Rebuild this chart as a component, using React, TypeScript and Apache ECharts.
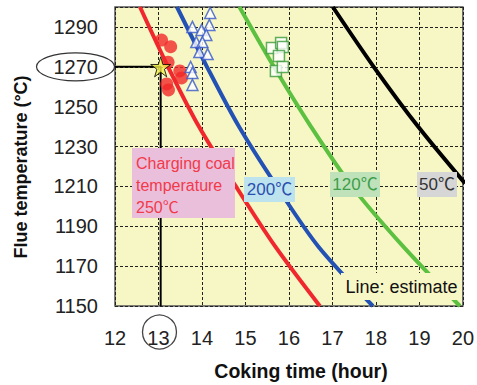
import React, { useEffect, useRef } from "react";
import * as echarts from "echarts";

// Estimated flue temperature vs. coking time, one line per charging-coal temperature
const line250: number[][] = [[12.575, 1300], [13.22, 1270], [13.93, 1240], [14.78, 1210], [15.68, 1180], [16.71, 1150]];
const line200: number[][] = [[13.425, 1300], [14.115, 1270], [14.85, 1240], [15.72, 1210], [16.67, 1180], [17.93, 1150]];
const line120: number[][] = [[14.862, 1300], [15.655, 1270], [16.506, 1240], [17.448, 1210], [18.62, 1180], [19.93, 1150]];
const line50: number[][] = [[17.01, 1300], [17.95, 1270], [18.97, 1240], [20.05, 1211.5]];

// Measured operating points
const points250: number[][] = [[13.07, 1283.4], [13.28, 1280.1], [13.22, 1272.3], [13.49, 1267.9], [13.53, 1264.4], [13.19, 1261.4], [13.23, 1258.4]];
const points200: number[][] = [[14.19, 1297], [13.78, 1290], [14.17, 1291], [13.99, 1288.5], [14.1, 1286], [13.87, 1282.4], [14.01, 1282.4], [13.94, 1277.4], [14.13, 1276.4], [13.74, 1269.9], [13.78, 1266.9], [13.78, 1260.9]];
const points120: number[][] = [[15.61, 1279.4], [15.82, 1281.9], [15.86, 1279.9], [15.77, 1275.4], [15.7, 1267.9], [15.86, 1269.9]];

// Target point and its guide lines
const target: number[] = [13.05, 1270];
const guide: number[][] = [[12, 1270], [13.05, 1270], [13.05, 1150]];

const xMin = 12, xMax = 20, xStep = 1;
const yMin = 1150, yMax = 1300, yStep = 20;

const FONT = "Arial, 'Liberation Sans', 'Noto Sans CJK JP', sans-serif";
const PLOT_BG = "#f7f7c6";
const STAR = "path://M50,0 L61,35 L98,35 L68,57 L79,91 L50,70 L21,91 L32,57 L2,35 L39,35 Z";

export default function App() {
  const ref = useRef<HTMLDivElement>(null);

  useEffect(() => {
    if (!ref.current) return;
    const chart = echarts.init(ref.current, undefined, { renderer: "svg" });

    const curve = (data: number[][], color: string) => ({
      type: "line",
      data,
      smooth: 0.3,
      showSymbol: false,
      lineStyle: { color, width: 4 },
      z: 2,
    });

    const boxLabel = (x: number, y: number, w: number, h: number, bg: string, text: string, color: string, size: number) => [
      { type: "rect", z: 100, shape: { x, y, width: w, height: h }, style: { fill: bg } },
      {
        type: "text", z: 101, x: x + w / 2, y: y + h / 2,
        style: { text, fill: color, font: `${size}px ${FONT}`, align: "center", verticalAlign: "middle" },
      },
    ];

    chart.setOption({
      animation: false,
      grid: {
        left: 115, right: 12, top: 7, bottom: 79,
        show: true, backgroundColor: PLOT_BG, borderColor: "#555", borderWidth: 1.5,
      },
      xAxis: {
        type: "value", min: xMin, max: xMax, interval: xStep,
        axisLine: { show: false }, axisTick: { show: false },
        axisLabel: { margin: 22, fontSize: 20, color: "#222", fontFamily: FONT, formatter: (v: number) => String(v) },
        splitLine: { show: true, lineStyle: { color: "#222", width: 1, type: [3, 2] } },
      },
      yAxis: {
        type: "value", min: yMin, max: yMax, interval: yStep,
        axisLine: { show: false }, axisTick: { show: false },
        axisLabel: {
          margin: 17, fontSize: 20, color: "#222", fontFamily: FONT, showMaxLabel: false,
          formatter: (v: number) => String(v),
        },
        splitLine: { show: true, lineStyle: { color: "#222", width: 1, type: [3, 2] } },
      },
      series: [
        curve(line250, "#f0282d"),
        curve(line200, "#2452b4"),
        curve(line120, "#5cc040"),
        curve(line50, "#000000"),
        {
          type: "line", data: guide, showSymbol: false, z: 3,
          lineStyle: { color: "#000", width: 2 },
        },
        {
          type: "scatter", data: points250, symbol: "circle", symbolSize: 13, z: 4,
          itemStyle: { color: "#f02828" },
        },
        {
          type: "scatter", data: points200, symbol: "triangle", symbolSize: 11, z: 4,
          itemStyle: { color: "#ffffff", borderColor: "#3556c8", borderWidth: 1.5 },
        },
        {
          type: "scatter", data: points120, symbol: "rect", symbolSize: 11, z: 4,
          itemStyle: { color: "#ffffff", borderColor: "#3a9a3a", borderWidth: 1.5 },
        },
        {
          type: "scatter", data: [target], symbol: STAR, symbolSize: 20, z: 5,
          itemStyle: { color: "#f2ee4a", borderColor: "#000", borderWidth: 1 },
        },
      ],
    });

    const ty = chart.convertToPixel({ gridIndex: 0 }, [xMin, target[1]]) as number[];
    const tx = chart.convertToPixel({ gridIndex: 0 }, [13, yMin]) as number[];

    chart.setOption({
      graphic: [
        // pink label for 250 ℃
        { type: "rect", z: 100, shape: { x: 132, y: 148, width: 103, height: 70 }, style: { fill: "#e9bfdc" } },
        {
          type: "text", z: 101, x: 136, y: 152,
          style: {
            text: "Charging coal\ntemperature\n250℃", fill: "#f23a4a",
            font: `16px ${FONT}`, lineHeight: 22, align: "left", verticalAlign: "top",
          },
        },
        ...boxLabel(244, 177, 51, 25, "#bde3ee", "200℃", "#2b4fae", 17),
        ...boxLabel(330, 172, 50, 25, "#bfe2bb", "120℃", "#3e9e4a", 17),
        ...boxLabel(417, 172, 40, 25, "#d6d6d6", "50℃", "#333", 17),
        ...boxLabel(341, 273, 121, 27, PLOT_BG, "Line: estimate", "#111", 18),
        // highlight rings on the 1270 ℃ and 13 h tick labels
        {
          type: "ellipse", z: 100, shape: { cx: 75.5, cy: ty[1], rx: 39, ry: 14 },
          style: { fill: "none", stroke: "#333", lineWidth: 1.2 },
        },
        {
          type: "circle", z: 100, shape: { cx: tx[0] + 1, cy: 332, r: 17 },
          style: { fill: "none", stroke: "#444", lineWidth: 1.3 },
        },
        // axis titles
        {
          type: "text", z: 100, x: 21, y: 167, rotation: Math.PI / 2,
          style: {
            text: "Flue temperature (°C)", fill: "#111", font: `bold 18px ${FONT}`,
            align: "center", verticalAlign: "middle",
          },
        },
        {
          type: "text", z: 100, x: 301, y: 371,
          style: {
            text: "Coking time (hour)", fill: "#111", font: `bold 19.5px ${FONT}`,
            align: "center", verticalAlign: "middle",
          },
        },
      ],
    });

    return () => chart.dispose();
  }, []);

  return <div ref={ref} style={{ position: "fixed", left: 0, top: 0, width: 477, height: 385, background: "#fff" }} />;
}
